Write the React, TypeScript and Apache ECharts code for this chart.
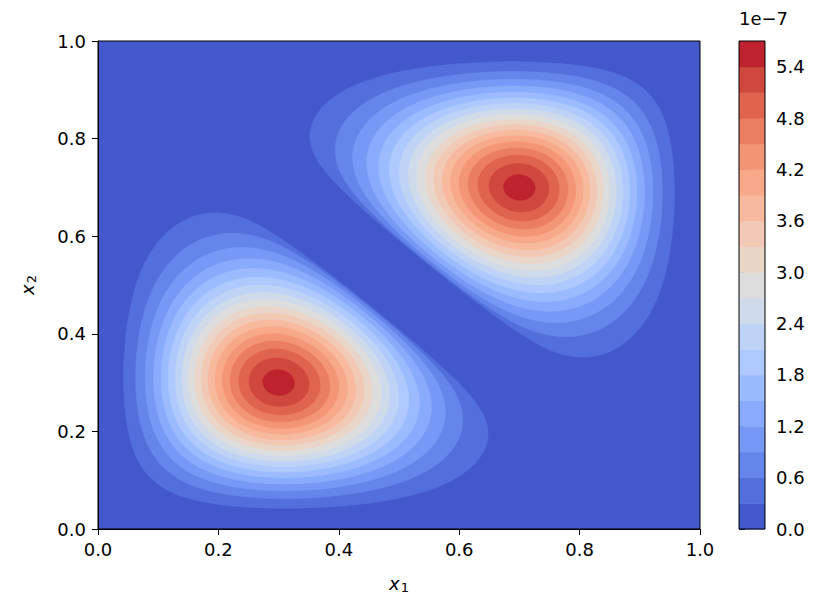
import { useEffect, useRef } from "react";
import * as echarts from "echarts";

// ---- values ----
const levels = [0, 0.3, 0.6, 0.9, 1.2, 1.5, 1.8, 2.1, 2.4, 2.7, 3.0, 3.3, 3.6, 3.9, 4.2, 4.5, 4.8, 5.1, 5.4, 5.7];
const colorbarTicks = [0, 0.6, 1.2, 1.8, 2.4, 3.0, 3.6, 4.2, 4.8, 5.4];
const axisTicks = [0, 0.2, 0.4, 0.6, 0.8, 1.0];
// the two peaks (upper one is the point reflection of the lower one)
const peakX = [0.3, 0.7];
const peakY = [0.3, 0.7];
// contour points of the lower blob: level (1e-7), x1, x2
const pointLevel = [
  0.3, 0.3, 0.3, 0.3, 0.3, 0.3, 0.3, 0.3, 0.3, 0.3, 0.3, 0.3, 0.3, 0.3, 0.3,
  3.0, 3.0, 3.0, 3.0, 3.0, 3.0,
  4.8, 4.8, 4.8, 4.8,
  5.1, 5.1, 5.1, 5.1,
  5.4, 5.4, 5.4, 5.4,
];
const pointX = [
  0.048, 0.048, 0.064, 0.092, 0.188, 0.072, 0.138, 0.23, 0.33, 0.5, 0.57, 0.65, 0.455, 0.31, 0.59,
  0.16, 0.455, 0.3, 0.3, 0.395, 0.195,
  0.236, 0.37, 0.3, 0.3,
  0.254, 0.354, 0.3, 0.3,
  0.277, 0.331, 0.3, 0.3,
];
const pointY = [
  0.33, 0.23, 0.5, 0.57, 0.647, 0.125, 0.064, 0.046, 0.043, 0.06, 0.092, 0.187, 0.455, 0.59, 0.31,
  0.3, 0.3, 0.16, 0.455, 0.395, 0.195,
  0.3, 0.3, 0.235, 0.366,
  0.3, 0.3, 0.254, 0.35,
  0.3, 0.3, 0.276, 0.328,
];

// coolwarm colormap table
const coolwarm = [
  [59, 76, 192], [68, 90, 204], [77, 104, 215], [87, 117, 225], [98, 130, 234], [108, 142, 241],
  [119, 154, 247], [130, 165, 251], [141, 176, 254], [152, 185, 255], [163, 194, 255], [174, 201, 253],
  [184, 208, 249], [194, 213, 244], [204, 217, 238], [213, 219, 230], [221, 221, 221], [229, 216, 209],
  [236, 211, 197], [241, 204, 185], [245, 196, 173], [247, 187, 160], [247, 177, 148], [247, 166, 135],
  [244, 154, 123], [241, 141, 111], [236, 127, 99], [229, 112, 88], [222, 96, 77], [213, 80, 66],
  [203, 62, 56], [192, 40, 47], [180, 4, 38],
];
function cmap(t: number): string {
  const p = Math.max(0, Math.min(1, t)) * (coolwarm.length - 1);
  const i = Math.min(coolwarm.length - 2, Math.floor(p));
  const f = p - i;
  const c = coolwarm[i].map((v, j) => Math.round(v + (coolwarm[i + 1][j] - v) * f));
  return `rgb(${c[0]},${c[1]},${c[2]})`;
}
const nBands = levels.length - 1;
// each band takes the colour of its mid value, normalised over the level range
const bandColors = Array.from({ length: nBands }, (_, i) => cmap((i + 0.5) / nBands));

// smooth log-concave surface around a peak, fitted to the contour points above
const C0 = peakX[0];
function surfaceLog(th: number[], u: number, v: number): number {
  const [la, lg, lG, q, z, r, lH] = th;
  if (u <= 0 || v <= 0) return -1e3;
  const a = Math.exp(la), g = Math.exp(lg), G = Math.exp(lG), H = Math.exp(lH);
  const p = 1 + Math.exp(q), w0 = Math.exp(z);
  const P = levels[levels.length - 2] + 0.3 / (1 + Math.exp(-r));
  const N0 = C0 * Math.pow(2, 1 / p);
  const gg = Math.pow(2, 1 / p - 1);
  const s = N0 + w0;
  const N = Math.pow(Math.pow(u, p) + Math.pow(v, p), 1 / p);
  const w = s - N;
  if (w <= 0) return -1e3;
  const d2 = (u - C0) ** 2 + (v - C0) ** 2;
  let L = Math.log(P);
  L += a * (Math.log(u / C0) - (u - C0) / C0 + Math.log(v / C0) - (v - C0) / C0);
  L += g * (Math.log(w / w0) + (gg * (u + v - 2 * C0)) / w0);
  L -= (G * d2) / 2;
  L -= H * Math.sqrt(d2);
  return L;
}
function rayRadius(th: number[], dx: number, dy: number, lv: number, iters: number): number {
  if (surfaceLog(th, C0, C0) < lv) return 0;
  let lo = 0, hi = 0.9;
  for (let it = 0; it < iters; it++) {
    const m = (lo + hi) / 2;
    if (surfaceLog(th, C0 + dx * m, C0 + dy * m) >= lv) lo = m;
    else hi = m;
  }
  return lo;
}
const pointRay = pointLevel.map((lev, i) => {
  const dx = pointX[i] - C0, dy = pointY[i] - C0;
  const r = Math.hypot(dx, dy);
  return { dx: dx / r, dy: dy / r, r, lv: Math.log(lev) };
});
function objective(th: number[]): number {
  if (!th.every(Number.isFinite)) return 1e12;
  let e = 0;
  for (const pr of pointRay) {
    const d = rayRadius(th, pr.dx, pr.dy, pr.lv, 20) - pr.r;
    e += d * d;
  }
  return Number.isFinite(e) ? e : 1e12;
}
function nelderMead(f: (x: number[]) => number, x0: number[], step: number, iters: number): number[] {
  const n = x0.length;
  let simplex = [x0.slice()];
  for (let i = 0; i < n; i++) {
    const x = x0.slice();
    x[i] += step;
    simplex.push(x);
  }
  let vals = simplex.map(f);
  for (let it = 0; it < iters; it++) {
    const idx = vals.map((_, i) => i).sort((a, b) => vals[a] - vals[b]);
    simplex = idx.map((i) => simplex[i]);
    vals = idx.map((i) => vals[i]);
    const cen = new Array(n).fill(0);
    for (let i = 0; i < n; i++) for (let j = 0; j < n; j++) cen[j] += simplex[i][j] / n;
    const worst = simplex[n];
    const xr = cen.map((c, j) => c + (c - worst[j]));
    const fr = f(xr);
    if (fr < vals[0]) {
      const xe = cen.map((c, j) => c + 2 * (c - worst[j]));
      const fe = f(xe);
      if (fe < fr) { simplex[n] = xe; vals[n] = fe; } else { simplex[n] = xr; vals[n] = fr; }
    } else if (fr < vals[n - 1]) {
      simplex[n] = xr; vals[n] = fr;
    } else {
      const xc = cen.map((c, j) => c + 0.5 * (worst[j] - c));
      const fc = f(xc);
      if (fc < vals[n]) { simplex[n] = xc; vals[n] = fc; }
      else {
        for (let i = 1; i <= n; i++) {
          simplex[i] = simplex[i].map((x, j) => simplex[0][j] + 0.5 * (x - simplex[0][j]));
          vals[i] = f(simplex[i]);
        }
      }
    }
  }
  let best = 0;
  for (let i = 1; i <= n; i++) if (vals[i] < vals[best]) best = i;
  return simplex[best];
}
const theta0 = [Math.log(2), Math.log(1), Math.log(5), Math.log(1), Math.log(0.35), 0, Math.log(3)];
let theta = theta0.slice();
for (let rep = 0; rep < 3; rep++) theta = nelderMead(objective, theta, 0.4, 1500);
if (!theta.every(Number.isFinite)) theta = theta0;

function blobLog(k: number, x: number, y: number): number {
  const u = k === 0 ? x : 1 - x;
  const v = k === 0 ? y : 1 - y;
  return surfaceLog(theta, u, v);
}

// superlevel-set boundaries traced along rays from each peak
const NANG = 360;
function traceLevel(k: number, level: number): number[][] | null {
  const lv = Math.log(level);
  if (blobLog(k, peakX[k], peakY[k]) < lv) return null;
  const pts: number[][] = [];
  for (let a = 0; a < NANG; a++) {
    const th = (a / NANG) * Math.PI * 2;
    const dx = Math.cos(th), dy = Math.sin(th);
    let lo = 0, hi = 1.2;
    for (let it = 0; it < 34; it++) {
      const m = (lo + hi) / 2;
      if (blobLog(k, peakX[k] + dx * m, peakY[k] + dy * m) >= lv) lo = m;
      else hi = m;
    }
    pts.push([peakX[k] + dx * lo, peakY[k] + dy * lo]);
  }
  return pts;
}
const contourPolys: Record<string, number[][] | null> = {};
const contourItems: number[][] = [];
for (let L = 1; L < nBands; L++) {
  for (let k = 0; k < peakX.length; k++) {
    contourPolys[`${L}_${k}`] = traceLevel(k, levels[L]);
    contourItems.push([peakX[k], peakY[k], L, k]);
  }
}
const colorbarItems = Array.from({ length: nBands }, (_, i) => [0.5, (levels[i] + levels[i + 1]) / 2, i]);

const FONT = "DejaVu Sans";
const FS = 18;
const nameRich = {
  i: { fontFamily: FONT, fontStyle: "italic", fontSize: FS, color: "#000", lineHeight: 20, verticalAlign: "top" },
  s: { fontFamily: FONT, fontSize: 13, color: "#000", lineHeight: 13, padding: [9, 0, 0, 1], verticalAlign: "bottom" },
};

export default function App() {
  const ref = useRef<HTMLDivElement>(null);
  useEffect(() => {
    const chart = echarts.init(ref.current!, null, { renderer: "svg" });
    const baseAxis = {
      type: "value" as const,
      min: 0,
      max: 1,
      interval: 0.2,
      splitLine: { show: false },
      axisLine: { show: true, lineStyle: { color: "#000", width: 1 } },
      axisTick: { show: true, length: 6, inside: false, lineStyle: { color: "#000", width: 1 } },
      axisLabel: {
        fontFamily: FONT,
        fontSize: FS,
        color: "#000",
        customValues: axisTicks,
        formatter: (v: number) => v.toFixed(1),
      },
    };
    chart.setOption({
      animation: false,
      backgroundColor: "#fff",
      textStyle: { fontFamily: FONT },
      grid: [
        { left: 98, top: 41, width: 602, height: 488, show: true, backgroundColor: bandColors[0], borderColor: "#000", borderWidth: 1 },
        { left: 739, top: 41, width: 26, height: 488, show: false },
      ],
      xAxis: [
        {
          ...baseAxis,
          gridIndex: 0,
          axisLabel: { ...baseAxis.axisLabel, margin: 11 },
          name: "{i|x}{s|1}",
          nameLocation: "middle",
          nameGap: 45,
          nameTextStyle: { rich: nameRich },
        },
        { type: "value", gridIndex: 1, min: 0, max: 1, show: false },
      ],
      yAxis: [
        {
          ...baseAxis,
          gridIndex: 0,
          axisLabel: { ...baseAxis.axisLabel, margin: 12 },
          name: "{i|x}{s|2}",
          nameLocation: "middle",
          nameGap: 60,
          nameRotate: 90,
          nameTextStyle: { rich: nameRich },
        },
        {
          type: "value",
          gridIndex: 1,
          position: "right",
          min: levels[0],
          max: levels[levels.length - 1],
          splitLine: { show: false },
          axisLine: { show: false },
          axisTick: { show: true, length: 6, customValues: colorbarTicks, lineStyle: { color: "#000", width: 1 } },
          axisLabel: {
            fontFamily: FONT,
            fontSize: FS,
            color: "#000",
            margin: 11,
            customValues: colorbarTicks,
            formatter: (v: number) => v.toFixed(1),
          },
        },
      ],
      graphic: [
        {
          type: "text",
          left: 739,
          top: 9,
          style: { text: "1e\u22127", fontFamily: FONT, fontSize: FS, fill: "#000" },
        },
      ],
      series: [
        {
          type: "custom",
          xAxisIndex: 0,
          yAxisIndex: 0,
          silent: true,
          data: contourItems,
          renderItem: (_p: any, api: any) => {
            const L = api.value(2);
            const k = api.value(3);
            const poly = contourPolys[`${L}_${k}`];
            if (!poly) return null;
            const pts = poly.map((p) => api.coord(p));
            return {
              type: "polygon",
              shape: { points: pts },
              style: { fill: bandColors[L], stroke: bandColors[L], lineWidth: 0.6 },
            };
          },
        },
        {
          type: "custom",
          xAxisIndex: 1,
          yAxisIndex: 1,
          silent: true,
          data: colorbarItems,
          renderItem: (_p: any, api: any) => {
            const i = api.value(2);
            const p1 = api.coord([0, levels[i + 1]]);
            const p2 = api.coord([1, levels[i]]);
            return {
              type: "rect",
              shape: { x: p1[0], y: p1[1], width: p2[0] - p1[0], height: p2[1] - p1[1] + 0.5 },
              style: { fill: bandColors[i] },
            };
          },
        },
        {
          type: "custom",
          xAxisIndex: 1,
          yAxisIndex: 1,
          silent: true,
          z: 5,
          data: [[0.5, levels[levels.length - 1] / 2]],
          renderItem: (_p: any, api: any) => {
            const p1 = api.coord([0, levels[levels.length - 1]]);
            const p2 = api.coord([1, levels[0]]);
            return {
              type: "rect",
              shape: { x: p1[0], y: p1[1], width: p2[0] - p1[0], height: p2[1] - p1[1] },
              style: { fill: "none", stroke: "#000", lineWidth: 1 },
            };
          },
        },
      ],
    });
    return () => chart.dispose();
  }, []);
  return <div ref={ref} style={{ position: "fixed", left: 0, top: 0, width: 831, height: 614 }} />;
}
